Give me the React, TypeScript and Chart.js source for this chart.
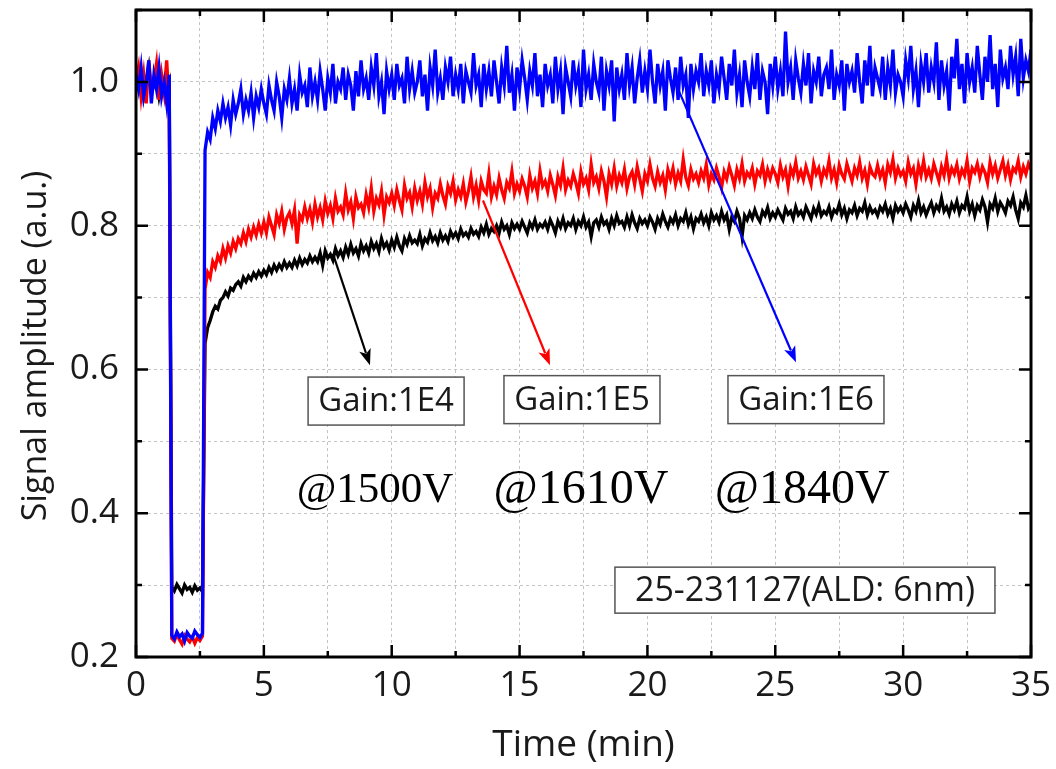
import React, { useEffect, useRef } from 'react';
import { Chart, registerables } from 'chart.js';

Chart.register(...registerables);

// sampling step of the recorded traces (minutes)
const TIME_STEP = 0.1;

// Gain 1E6 @1840V (blue), one value per 0.1 min from 0 to 35 min
const blueGain1E6 = [
  // 0.0 - 1.3
  1.01, 0.99, 1.02, 0.98, 1.0, 1.03, 0.97, 1.01, 0.99, 1.02, 0.98, 1.0, 0.97, 1.01,
  // 1.4 - 2.6
  0.23, 0.225, 0.235, 0.228, 0.232, 0.222, 0.234, 0.229, 0.226, 0.236, 0.231, 0.227, 0.233,
  // 2.7 - 2.9
  0.905, 0.93, 0.92,
  0.95, 0.935, 0.96, 0.945, 0.97, 0.95, 0.965, 0.94, 0.975, 0.955,
  0.97, 0.99, 0.955, 0.975, 0.96, 0.985, 0.95, 0.98, 0.965, 0.99,
  0.97, 0.955, 0.995, 0.975, 0.96, 1.0, 0.98, 0.95, 0.99, 0.975,
  1.005, 0.97, 0.99, 0.96, 1.01, 0.985, 0.995, 0.965, 1.02, 0.98,
  1.0, 0.975, 1.015, 0.99, 0.96, 1.005, 0.985, 1.025, 0.97, 1.0,
  0.99, 1.02, 0.975, 1.01, 0.995, 0.96, 1.015, 0.98, 1.03, 0.99,
  1.005, 0.975, 1.02, 0.995, 1.04, 0.98, 1.0, 0.955, 1.015, 0.99,
  1.01, 0.975, 1.025, 0.995, 1.005, 0.97, 1.035, 0.99, 1.015, 0.985,
  1.0, 1.03, 0.98, 1.01, 0.96, 1.02, 0.995, 1.045, 0.985, 1.005,
  0.975, 1.02, 1.0, 1.035, 0.98, 1.01, 0.99, 1.025, 0.97, 1.015,
  1.0, 0.985, 1.04, 0.995, 1.01, 0.965, 1.025, 0.99, 1.015, 0.98,
  1.03, 1.0, 0.97, 1.02, 0.995, 1.05, 0.985, 1.01, 0.96, 1.02,
  0.99, 1.03, 1.005, 0.975, 1.015, 0.995, 1.04, 0.98, 1.01, 0.965,
  1.025, 0.995, 1.01, 0.97, 1.035, 0.99, 1.015, 0.955, 1.02, 1.0,
  0.98, 1.03, 0.995, 1.015, 0.965, 1.045, 0.99, 1.01, 0.975, 1.025,
  1.0, 0.985, 1.035, 0.96, 1.015, 0.995, 1.03, 0.945, 1.02, 0.99,
  1.01, 0.975, 1.04, 0.995, 1.02, 0.97, 1.005, 1.03, 0.985, 1.015,
  0.99, 1.045, 1.0, 0.97, 1.025, 0.995, 1.015, 0.96, 1.03, 1.005,
  0.985, 1.02, 0.975, 1.035, 0.995, 1.01, 0.95, 1.025, 0.99, 1.015,
  1.0, 1.04, 0.98, 1.015, 0.995, 1.03, 0.97, 1.01, 0.99, 1.035,
  1.005, 0.975, 1.025, 0.995, 1.045, 0.985, 1.01, 0.965, 1.03, 1.0,
  0.98, 1.02, 0.99, 1.04, 0.975, 1.015, 1.0, 0.955, 1.025, 0.995,
  1.035, 0.99, 1.015, 0.98, 1.07, 1.0, 1.02, 0.975, 1.03, 1.005,
  0.985, 1.025, 0.995, 1.04, 0.97, 1.015, 1.0, 1.035, 0.98, 1.01,
  1.02, 0.99, 1.045, 0.975, 1.01, 0.995, 1.03, 0.96, 1.025, 1.0,
  1.015, 0.985, 1.04, 1.0, 0.97, 1.03, 0.995, 1.05, 0.98, 1.02,
  1.005, 0.99, 1.035, 0.975, 1.02, 0.995, 1.045, 0.985, 1.01, 1.0,
  0.98, 1.03, 1.005, 1.05, 0.99, 1.015, 0.965, 1.025, 1.0, 1.04,
  0.985, 1.02, 1.0, 1.055, 0.975, 1.03, 0.995, 1.015, 0.96, 1.035,
  1.005, 1.06, 0.99, 1.025, 0.97, 1.04, 1.0, 1.02, 0.985, 1.05,
  1.01, 0.975, 1.035, 1.0, 1.065, 0.99, 1.025, 0.965, 1.045, 1.005,
  1.02, 0.99, 1.05, 1.01, 1.035, 0.98, 1.06, 1.005, 1.03, 1.015,
  // 35.0
  1.045,
];

// Gain 1E5 @1610V (red)
const redGain1E5 = [
  1.0, 1.02, 0.98, 1.01, 0.97, 1.03, 0.99, 1.0, 1.025, 0.975, 1.01, 0.985, 1.03, 0.965,
  0.226, 0.222, 0.232, 0.224, 0.218, 0.23, 0.225, 0.221, 0.228, 0.219, 0.227, 0.223, 0.229,
  0.712, 0.735, 0.728,
  0.75, 0.742, 0.758, 0.75, 0.768, 0.755, 0.772, 0.762, 0.778, 0.768,
  0.782, 0.775, 0.79, 0.778, 0.795, 0.784, 0.798, 0.787, 0.802, 0.79,
  0.805, 0.79, 0.812, 0.8, 0.788, 0.815, 0.803, 0.82, 0.795, 0.811,
  0.818, 0.803, 0.822, 0.775, 0.815, 0.808, 0.826, 0.81, 0.823, 0.805,
  0.83, 0.812, 0.825, 0.808, 0.834, 0.817, 0.828, 0.81, 0.838, 0.82,
  0.826, 0.815, 0.845, 0.822, 0.833, 0.81, 0.84, 0.825, 0.83, 0.818,
  0.843, 0.826, 0.852, 0.82, 0.838, 0.829, 0.848, 0.815, 0.84, 0.832,
  0.845, 0.828, 0.85, 0.835, 0.822, 0.856, 0.838, 0.846, 0.826, 0.852,
  0.835, 0.848, 0.83, 0.86, 0.84, 0.852, 0.825, 0.845, 0.838, 0.858,
  0.842, 0.83, 0.855, 0.845, 0.862, 0.836, 0.85, 0.84, 0.858, 0.833,
  0.848, 0.868, 0.84, 0.856, 0.835, 0.862, 0.85, 0.845, 0.872, 0.84,
  0.855, 0.843, 0.866, 0.85, 0.838, 0.86, 0.852, 0.875, 0.845, 0.858,
  0.848, 0.865, 0.855, 0.84, 0.87, 0.852, 0.862, 0.845, 0.876, 0.855,
  0.862, 0.848, 0.87, 0.857, 0.842, 0.868, 0.856, 0.88, 0.85, 0.863,
  0.855, 0.872, 0.86, 0.845, 0.875, 0.858, 0.866, 0.85, 0.885, 0.86,
  0.868, 0.852, 0.876, 0.862, 0.84, 0.872, 0.858, 0.88, 0.855, 0.87,
  0.86, 0.878, 0.852, 0.868, 0.875, 0.857, 0.882, 0.865, 0.848, 0.872,
  0.862, 0.885, 0.866, 0.855, 0.875, 0.86, 0.87, 0.85, 0.878, 0.865,
  0.88, 0.858, 0.873, 0.862, 0.892, 0.867, 0.856, 0.878, 0.865, 0.872,
  0.86, 0.876, 0.866, 0.885, 0.857, 0.872, 0.864, 0.88, 0.868, 0.853,
  0.875, 0.865, 0.882, 0.87, 0.856, 0.878, 0.866, 0.886, 0.862, 0.874,
  0.868, 0.88, 0.858, 0.876, 0.87, 0.885, 0.862, 0.878, 0.866, 0.88,
  0.872, 0.86, 0.884, 0.868, 0.878, 0.855, 0.88, 0.87, 0.888, 0.866,
  0.876, 0.864, 0.882, 0.87, 0.858, 0.886, 0.872, 0.88, 0.862, 0.878,
  0.87, 0.89, 0.866, 0.878, 0.86, 0.884, 0.872, 0.865, 0.886, 0.874,
  0.862, 0.88, 0.87, 0.888, 0.866, 0.877, 0.858, 0.882, 0.872, 0.868,
  0.884, 0.868, 0.878, 0.86, 0.885, 0.874, 0.892, 0.866, 0.88, 0.87,
  0.876, 0.862, 0.888, 0.872, 0.88, 0.858, 0.884, 0.87, 0.89, 0.868,
  0.878, 0.866, 0.886, 0.874, 0.862, 0.882, 0.87, 0.892, 0.866, 0.88,
  0.872, 0.885, 0.865, 0.878, 0.87, 0.89, 0.862, 0.88, 0.874, 0.886,
  0.868, 0.882, 0.874, 0.86, 0.888, 0.872, 0.884, 0.866, 0.878, 0.89,
  0.87, 0.884, 0.864, 0.88, 0.875, 0.89, 0.868, 0.882, 0.872, 0.886,
  0.878,
];

// Gain 1E4 @1500V (black)
const blackGain1E4 = [
  1.0, 0.99, 1.01, 0.98, 1.0, 1.02, 0.985, 0.995, 1.005, 0.98, 1.0, 0.99, 0.98, 0.995,
  0.298, 0.292, 0.301, 0.295, 0.289, 0.3, 0.294, 0.297, 0.29, 0.299, 0.293, 0.296, 0.291,
  0.636, 0.658, 0.668,
  0.68, 0.688, 0.684, 0.696, 0.7, 0.708, 0.702, 0.713, 0.71, 0.718,
  0.722, 0.716, 0.728, 0.722, 0.73, 0.725, 0.734, 0.728, 0.736, 0.73,
  0.738, 0.732, 0.742, 0.735, 0.745, 0.738, 0.746, 0.74, 0.75, 0.742,
  0.748, 0.742, 0.752, 0.744, 0.755, 0.746, 0.753, 0.748, 0.758, 0.75,
  0.756, 0.75, 0.762, 0.745, 0.765, 0.755, 0.76, 0.752, 0.768, 0.758,
  0.765, 0.756, 0.77, 0.76, 0.774, 0.762, 0.768, 0.758, 0.775, 0.765,
  0.772, 0.762, 0.778, 0.768, 0.775, 0.764, 0.782, 0.77, 0.776, 0.766,
  0.78, 0.77, 0.784, 0.772, 0.765, 0.782, 0.774, 0.786, 0.776, 0.78,
  0.775, 0.788, 0.772, 0.782, 0.777, 0.79, 0.779, 0.785, 0.776, 0.79,
  0.78, 0.786, 0.778, 0.792, 0.784, 0.79, 0.782, 0.795, 0.786, 0.79,
  0.784, 0.796, 0.788, 0.792, 0.785, 0.798, 0.79, 0.802, 0.788, 0.796,
  0.792, 0.8, 0.79, 0.805, 0.795, 0.8, 0.788, 0.804, 0.796, 0.802,
  0.795, 0.806, 0.798, 0.79, 0.804, 0.797, 0.808, 0.795, 0.802, 0.798,
  0.805, 0.795, 0.808, 0.8, 0.79, 0.806, 0.798, 0.81, 0.796, 0.804,
  0.8, 0.81, 0.795, 0.806, 0.8, 0.812, 0.798, 0.805, 0.785, 0.804,
  0.808, 0.798, 0.812, 0.802, 0.806, 0.795, 0.81, 0.8, 0.814, 0.803,
  0.806, 0.798, 0.812, 0.8, 0.815, 0.804, 0.796, 0.81, 0.803, 0.808,
  0.8, 0.812, 0.805, 0.795, 0.81, 0.802, 0.816, 0.806, 0.798, 0.81,
  0.804, 0.815, 0.8, 0.81, 0.806, 0.818, 0.802, 0.812, 0.796, 0.81,
  0.806, 0.816, 0.804, 0.812, 0.8, 0.818, 0.808, 0.814, 0.805, 0.82,
  0.808, 0.815, 0.795, 0.812, 0.806, 0.82, 0.81, 0.785, 0.814, 0.808,
  0.818, 0.81, 0.822, 0.812, 0.806, 0.82, 0.814, 0.825, 0.81, 0.818,
  0.812, 0.822, 0.815, 0.808, 0.824, 0.816, 0.82, 0.81, 0.826, 0.815,
  0.82, 0.812, 0.826, 0.818, 0.81, 0.824, 0.816, 0.828, 0.814, 0.82,
  0.816, 0.826, 0.812, 0.822, 0.818, 0.83, 0.815, 0.824, 0.81, 0.822,
  0.818, 0.828, 0.814, 0.824, 0.82, 0.832, 0.815, 0.826, 0.818, 0.822,
  0.814, 0.826, 0.82, 0.83, 0.816, 0.824, 0.81, 0.828, 0.82, 0.826,
  0.818, 0.83, 0.822, 0.812, 0.828, 0.82, 0.835, 0.818, 0.826, 0.815,
  0.824, 0.832, 0.818, 0.828, 0.822, 0.838, 0.82, 0.826, 0.816, 0.83,
  0.822, 0.834, 0.818, 0.828, 0.824, 0.84, 0.82, 0.83, 0.814, 0.828,
  0.822, 0.836, 0.826, 0.805, 0.83, 0.824, 0.838, 0.82, 0.832, 0.826,
  0.818, 0.834, 0.828, 0.84, 0.822, 0.81, 0.832, 0.826, 0.842, 0.824,
  0.83,
];

const seriesNames = ['Gain:1E6', 'Gain:1E5', 'Gain:1E4'];
const seriesColors = ['#0000ff', '#ff0000', '#000000'];

// annotation anchors in data units (x: minutes, y: amplitude)
const arrowFrom = [[21.2, 0.99], [13.57, 0.835], [7.7, 0.761]];
const arrowTo = [[25.81, 0.61], [16.19, 0.606], [9.15, 0.606]];
const gainBoxAt = [[26.2, 0.558], [17.44, 0.558], [9.78, 0.556]];
const voltageLabels = ['@1840V', '@1610V', '@1500V'];
const voltageAt = [[26.05, 0.432], [17.4, 0.432], [9.35, 0.432]];
const sampleLabel = '25-231127(ALD: 6nm)';
const sampleAt = [26.16, 0.293];

const X_MIN = 0, X_MAX = 35, X_STEP = 2.5;
const Y_MIN = 0.2, Y_MAX = 1.1, Y_STEP = 0.1;

const TEXT = '#1a1a1a';
const SANS = '"Open Sans", "Noto Sans", sans-serif';

function toPoints(values: number[]) {
  return values.map((v, i) => ({ x: Math.round(i * TIME_STEP * 10) / 10, y: v }));
}

const decorPlugin = {
  id: 'decor',
  afterDatasetsDraw(chart: any) {
    const { ctx, chartArea: a, scales } = chart;
    const xs = scales.x, ys = scales.y;
    ctx.save();

    // inward tick marks on all four sides
    ctx.strokeStyle = '#000';
    ctx.lineWidth = 2.5;
    ctx.beginPath();
    xs.ticks.forEach((t: any) => {
      const px = xs.getPixelForValue(t.value);
      const major = Math.abs(t.value / 5 - Math.round(t.value / 5)) < 1e-6;
      const len = major ? 12 : 6;
      ctx.moveTo(px, a.bottom); ctx.lineTo(px, a.bottom - len);
      ctx.moveTo(px, a.top); ctx.lineTo(px, a.top + len);
    });
    ys.ticks.forEach((t: any) => {
      const py = ys.getPixelForValue(t.value);
      const major = Math.round(t.value * 10) % 2 === 0;
      const len = major ? 12 : 6;
      ctx.moveTo(a.left, py); ctx.lineTo(a.left + len, py);
      ctx.moveTo(a.right, py); ctx.lineTo(a.right - len, py);
    });
    ctx.stroke();

    // frame
    ctx.lineWidth = 3;
    ctx.strokeRect(a.left, a.top, a.right - a.left, a.bottom - a.top);

    // arrows
    arrowFrom.forEach((f, i) => {
      const x1 = xs.getPixelForValue(f[0]), y1 = ys.getPixelForValue(f[1]);
      const x2 = xs.getPixelForValue(arrowTo[i][0]), y2 = ys.getPixelForValue(arrowTo[i][1]);
      const ang = Math.atan2(y2 - y1, x2 - x1);
      const hl = 16, hw = 6;
      ctx.strokeStyle = seriesColors[i];
      ctx.fillStyle = seriesColors[i];
      ctx.lineWidth = 2.2;
      ctx.beginPath();
      ctx.moveTo(x1, y1);
      ctx.lineTo(x2 - Math.cos(ang) * hl * 0.8, y2 - Math.sin(ang) * hl * 0.8);
      ctx.stroke();
      ctx.beginPath();
      ctx.moveTo(x2, y2);
      ctx.lineTo(x2 - Math.cos(ang) * hl - Math.sin(ang) * hw, y2 - Math.sin(ang) * hl + Math.cos(ang) * hw);
      ctx.lineTo(x2 - Math.cos(ang) * hl * 0.75, y2 - Math.sin(ang) * hl * 0.75);
      ctx.lineTo(x2 - Math.cos(ang) * hl + Math.sin(ang) * hw, y2 - Math.sin(ang) * hl - Math.cos(ang) * hw);
      ctx.closePath();
      ctx.fill();
    });

    // boxed labels
    const boxed = (text: string, cx: number, cy: number, size: number, w: number, h: number) => {
      ctx.font = `${size}px ${SANS}`;
      ctx.fillStyle = '#fff';
      ctx.fillRect(cx - w / 2, cy - h / 2, w, h);
      ctx.strokeStyle = '#555';
      ctx.lineWidth = 1.5;
      ctx.strokeRect(cx - w / 2, cy - h / 2, w, h);
      ctx.fillStyle = TEXT;
      ctx.textAlign = 'center';
      ctx.textBaseline = 'middle';
      ctx.fillText(text, cx, cy + 1);
    };
    gainBoxAt.forEach((p, i) => {
      boxed(seriesNames[i], xs.getPixelForValue(p[0]), ys.getPixelForValue(p[1]), 33, 156, 48);
    });
    boxed(sampleLabel, xs.getPixelForValue(sampleAt[0]), ys.getPixelForValue(sampleAt[1]), 34, 380, 46);

    // voltages (serif)
    voltageLabels.forEach((t, i) => {
      const size = i === 2 ? 43 : 48;
      ctx.font = `${size}px "Liberation Serif", serif`;
      ctx.fillStyle = '#000';
      ctx.textAlign = 'center';
      ctx.textBaseline = 'middle';
      ctx.fillText(t, xs.getPixelForValue(voltageAt[i][0]), ys.getPixelForValue(voltageAt[i][1]));
    });

    // axis titles
    ctx.fillStyle = TEXT;
    ctx.font = `37px ${SANS}`;
    ctx.textAlign = 'center';
    ctx.textBaseline = 'middle';
    ctx.fillText('Time (min)', (a.left + a.right) / 2, 745);
    ctx.font = `34px ${SANS}`;
    ctx.save();
    ctx.translate(36, 346);
    ctx.rotate(-Math.PI / 2);
    ctx.fillText('Signal amplitude (a.u.)', 0, 0);
    ctx.restore();

    ctx.restore();
  },
};

export default function App() {
  const ref = useRef<HTMLCanvasElement>(null);
  useEffect(() => {
    document.body.style.margin = '0';
    const canvas = ref.current!;
    const chart = new Chart(canvas, {
      type: 'line',
      data: {
        datasets: [blueGain1E6, redGain1E5, blackGain1E4].map((vals, i) => ({
          label: seriesNames[i],
          data: toPoints(vals),
          borderColor: seriesColors[i],
          backgroundColor: seriesColors[i],
          borderWidth: 3.3,
          pointRadius: 0,
          tension: 0,
          fill: false,
        })),
      },
      options: {
        animation: false,
        responsive: false,
        devicePixelRatio: 1,
        layout: { padding: { left: 0, right: 25, top: 10, bottom: 0 } },
        plugins: { legend: { display: false }, tooltip: { enabled: false } },
        scales: {
          x: {
            type: 'linear',
            min: X_MIN,
            max: X_MAX,
            afterFit: (s: any) => { s.height = 112; s.paddingLeft = 0; s.paddingRight = 0; },
            grid: { color: '#c4c4c4', lineWidth: 1, drawTicks: false },
            border: { display: false, dash: [3, 3] },
            ticks: {
              stepSize: X_STEP,
              autoSkip: false,
              maxRotation: 0,
              padding: 8,
              color: TEXT,
              font: { family: SANS, size: 35 },
              callback: (v: any) => (Math.abs(v / 5 - Math.round(v / 5)) < 1e-6 ? String(v) : ''),
            },
          },
          y: {
            type: 'linear',
            min: Y_MIN,
            max: Y_MAX,
            afterFit: (s: any) => { s.width = 136; s.paddingTop = 0; s.paddingBottom = 0; },
            grid: { color: '#c4c4c4', lineWidth: 1, drawTicks: false },
            border: { display: false, dash: [3, 3] },
            ticks: {
              stepSize: Y_STEP,
              autoSkip: false,
              padding: 17,
              color: TEXT,
              font: { family: SANS, size: 35 },
              callback: (v: any) => {
                const k = Math.round(v * 10);
                return k % 2 === 0 && k <= 10 ? (k / 10).toFixed(1) : '';
              },
            },
          },
        },
      },
      plugins: [decorPlugin],
    } as any);
    return () => chart.destroy();
  }, []);
  return (
    <div style={{ width: 1056, height: 769, background: '#fff' }}>
      <canvas ref={ref} width={1056} height={769} />
    </div>
  );
}
